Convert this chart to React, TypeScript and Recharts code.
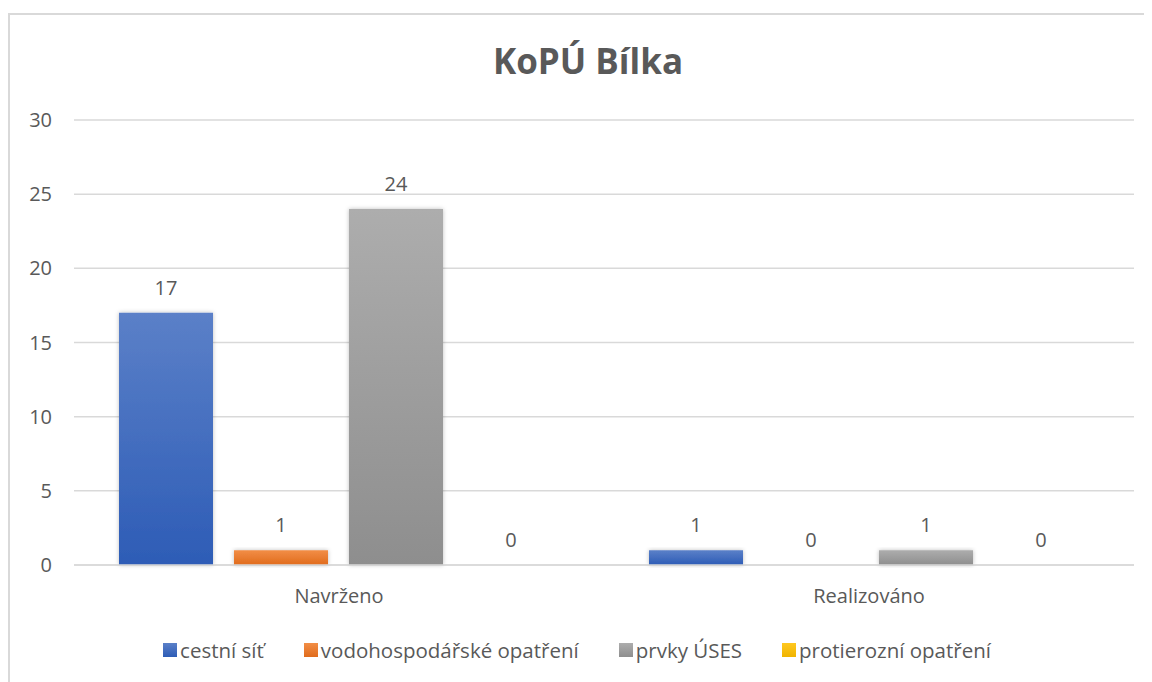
import React from "react";
import {
  BarChart,
  Bar,
  XAxis,
  YAxis,
  CartesianGrid,
  Legend,
  LabelList,
} from "recharts";

const categories = ["Navrženo", "Realizováno"];
const cestniSit = [17, 1];
const vodohospodarske = [1, 0];
const prvkyUses = [24, 1];
const protierozni = [0, 0];
const yTicks = [0, 5, 10, 15, 20, 25, 30];

const series = [
  { key: "cestni", name: "cestní síť", values: cestniSit, top: "#5b80c8", bottom: "#2d5cb6" },
  { key: "voda", name: "vodohospodářské opatření", values: vodohospodarske, top: "#f28e46", bottom: "#e06b1c" },
  { key: "uses", name: "prvky ÚSES", values: prvkyUses, top: "#adadad", bottom: "#8e8e8e" },
  { key: "eroze", name: "protierozní opatření", values: protierozni, top: "#ffc820", bottom: "#f0b400" },
];

const data = categories.map((c, i) => {
  const row: Record<string, string | number> = { category: c };
  series.forEach((s) => {
    row[s.key] = s.values[i];
  });
  return row;
});

const FONT = "'Open Sans', 'Noto Sans', sans-serif";
const TEXT = "#595959";
const FS = 20;

const LegendContent = () => (
  <div
    style={{
      display: "flex",
      justifyContent: "center",
      gap: 40,
      fontFamily: FONT,
      fontSize: 20.5,
      color: TEXT,
      paddingTop: 31,
      marginLeft: 10,
    }}
  >
    {series.map((s) => (
      <span key={s.key} style={{ display: "flex", alignItems: "center" }}>
        <span
          style={{
            display: "inline-block",
            width: 14,
            height: 14,
            marginRight: 3,
            background: `linear-gradient(${s.top}, ${s.bottom})`,
          }}
        />
        {s.name}
      </span>
    ))}
  </div>
);

const App = () => {
  return (
    <div
      style={{
        marginTop: 5,
        width: 1143,
        height: 668,
        borderTop: "2px solid #d9d9d9",
        borderLeft: "2px solid #d9d9d9",
        position: "relative",
        fontFamily: FONT,
      }}
    >
      <div
        style={{
          position: "absolute",
          top: 22,
          left: 0,
          width: 1156,
          textAlign: "center",
          fontSize: 35,
          fontWeight: 700,
          color: TEXT,
        }}
      >
        KoPÚ Bílka
      </div>
      <BarChart
        width={1141}
        height={666}
        data={data}
        margin={{ top: 105, right: 17, left: 0, bottom: 0 }}
        barCategoryGap={45}
        barGap={21}
      >
        <defs>
          {series.map((s) => (
            <linearGradient key={s.key} id={`grad-${s.key}`} x1="0" y1="0" x2="0" y2="1">
              <stop offset="0%" stopColor={s.top} />
              <stop offset="100%" stopColor={s.bottom} />
            </linearGradient>
          ))}
          <filter id="shadow" x="-20%" y="-20%" width="140%" height="140%">
            <feDropShadow dx="0" dy="0" stdDeviation="2" floodColor="#000" floodOpacity="0.25" />
          </filter>
        </defs>
        <CartesianGrid vertical={false} stroke="#d9d9d9" strokeWidth={1.5} />
        <XAxis
          dataKey="category"
          axisLine={{ stroke: "#d9d9d9", strokeWidth: 1.5 }}
          tickLine={false}
          tickSize={0}
          tickMargin={24}
          height={40}
          tick={{ fill: TEXT, fontSize: FS, fontFamily: FONT }}
        />
        <YAxis
          domain={[0, 30]}
          ticks={yTicks}
          axisLine={false}
          tickLine={false}
          tickSize={0}
          tickMargin={22}
          width={64}
          tick={{ fill: TEXT, fontSize: FS, fontFamily: FONT }}
        />
        <Legend verticalAlign="bottom" height={76} content={<LegendContent />} />
        {series.map((s) => (
          <Bar
            key={s.key}
            dataKey={s.key}
            name={s.name}
            fill={`url(#grad-${s.key})`}
            filter="url(#shadow)"
            minPointSize={(v: number) => (v === 0 ? 0.01 : 0)}
            isAnimationActive={false}
          >
            <LabelList
              dataKey={s.key}
              position="top"
              offset={18}
              fill={TEXT}
              fontSize={FS}
              fontFamily={FONT}
            />
          </Bar>
        ))}
      </BarChart>
    </div>
  );
};

export default App;
